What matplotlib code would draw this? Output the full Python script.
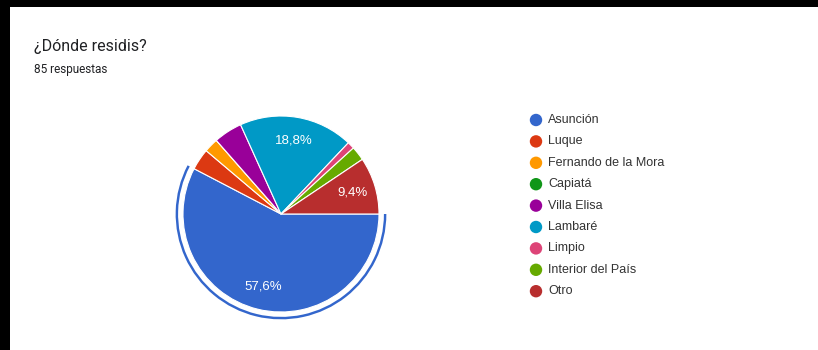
import matplotlib
matplotlib.use("Agg")
import matplotlib.pyplot as plt
from matplotlib.patches import Wedge, Rectangle

plt.rcParams['font.family'] = ['Liberation Sans', 'DejaVu Sans']

# Survey responses
title = "¿Dónde residis?"
subtitle = "85 respuestas"
categories = ["Asunción", "Luque", "Fernando de la Mora", "Capiatá", "Villa Elisa",
              "Lambaré", "Limpio", "Interior del País", "Otro"]
counts = [49, 3, 2, 0, 4, 16, 1, 2, 8]
colors = ["#3366cc", "#dc3912", "#ff9900", "#109618", "#990099",
          "#0099c6", "#dd4477", "#66aa00", "#b82e2e"]

W, H = 818, 350
fig = plt.figure(figsize=(W / 100, H / 100), dpi=100)
fig.patch.set_facecolor("white")

# Pie axes, placed in pixel units
cx, cy, r_px = 281, 214, 98
half = 130
ax = fig.add_axes([(cx - half) / W, (H - cy - half) / H, 2 * half / W, 2 * half / H])
ax.axis("off")

total = sum(counts)

def pct_label(p):
    return (f"{p:.1f}%".replace(".", ",")) if p >= 5 else ""

wedges, texts, autotexts = ax.pie(
    counts, colors=colors, startangle=0, counterclock=False,
    autopct=pct_label, pctdistance=0.76, radius=1.0,
    wedgeprops=dict(edgecolor="white", linewidth=0.8),
    textprops=dict(color="white", fontsize=9.5),
)
ax.set_xlim(-half / r_px, half / r_px)
ax.set_ylim(-half / r_px, half / r_px)
ax.set_aspect("equal")

# Highlight ring around the selected slice
sel_span = counts[0] / total * 360
ax.add_patch(Wedge((0, 0), 1.075, -sel_span, 0, width=0.025,
                   facecolor=colors[0], edgecolor="none"))

# Overlay in pixel coordinates for text, legend and frame
ov = fig.add_axes([0, 0, 1, 1])
ov.set_xlim(0, W)
ov.set_ylim(H, 0)
ov.axis("off")
ov.patch.set_alpha(0)

ov.add_patch(Rectangle((0, 0), 10, H, facecolor="black", edgecolor="none"))
ov.add_patch(Rectangle((0, 0), W, 7, facecolor="black", edgecolor="none"))

ov.text(34, 47, title, fontsize=11.5, color="#202124", va="center", ha="left",
        family=["Roboto", "DejaVu Sans"])
ov.text(34, 70, subtitle, fontsize=8.5, color="#202124", va="center", ha="left",
        family=["Roboto", "DejaVu Sans"])

leg_x, leg_y0, leg_dy = 536, 120, 21.4
for i, (name, col) in enumerate(zip(categories, colors)):
    y = leg_y0 + i * leg_dy
    ov.scatter([leg_x], [y], s=80, color=col, edgecolors="none")
    ov.text(leg_x + 12, y, name, fontsize=9, color="#333333", va="center", ha="left")

fig.savefig("out.png", dpi=100, facecolor="white")
